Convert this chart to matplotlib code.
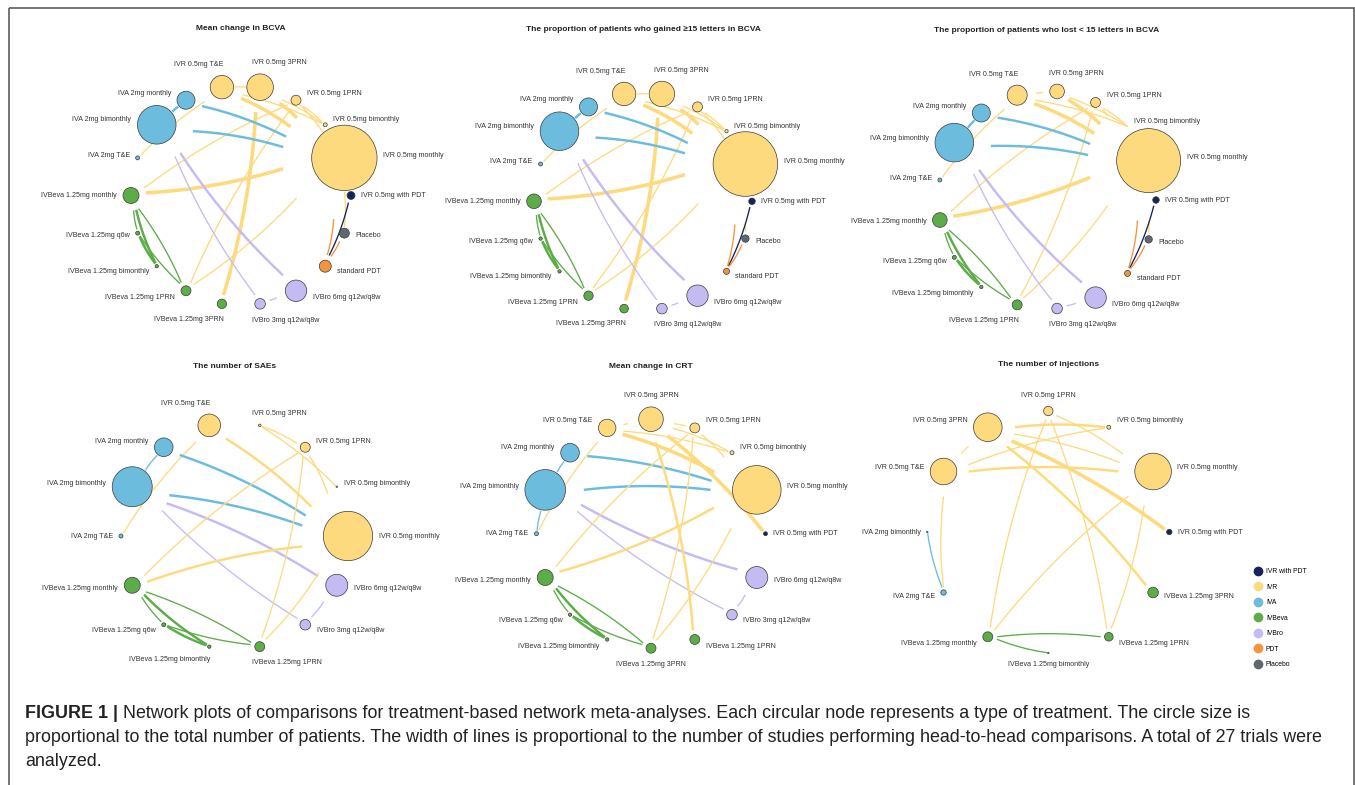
import numpy as np
import matplotlib
matplotlib.use('Agg')
import matplotlib.pyplot as plt
from matplotlib.lines import Line2D
from matplotlib.patches import Rectangle

plt.rcParams['font.family'] = ['Liberation Sans', 'DejaVu Sans']

W, H = 1355, 785

# treatment names and the drug class each belongs to
names = {
    'PDTc': 'IVR 0.5mg with PDT', 'Rm': 'IVR 0.5mg monthly', 'Rb': 'IVR 0.5mg bimonthly',
    'R1': 'IVR 0.5mg 1PRN', 'R3': 'IVR 0.5mg 3PRN', 'RT': 'IVR 0.5mg T&E',
    'Am': 'IVA 2mg monthly', 'Ab': 'IVA 2mg bimonthly', 'AT': 'IVA 2mg T&E',
    'Bm': 'IVBeva 1.25mg monthly', 'B6': 'IVBeva 1.25mg q6w', 'Bb': 'IVBeva 1.25mg bimonthly',
    'B1': 'IVBeva 1.25mg 1PRN', 'B3': 'IVBeva 1.25mg 3PRN',
    'O3': 'IVBro 3mg q12w/q8w', 'O6': 'IVBro 6mg q12w/q8w',
    'SP': 'standard PDT', 'Pl': 'Placebo',
}
drug_class = {
    'PDTc': 'IVR with PDT', 'Rm': 'IVR', 'Rb': 'IVR', 'R1': 'IVR', 'R3': 'IVR', 'RT': 'IVR',
    'Am': 'IVA', 'Ab': 'IVA', 'AT': 'IVA',
    'Bm': 'IVBeva', 'B6': 'IVBeva', 'Bb': 'IVBeva', 'B1': 'IVBeva', 'B3': 'IVBeva',
    'O3': 'IVBro', 'O6': 'IVBro', 'SP': 'PDT', 'Pl': 'Placebo',
}
classes = ['IVR with PDT', 'IVR', 'IVA', 'IVBeva', 'IVBro', 'PDT', 'Placebo']
class_colors = {
    'IVR with PDT': '#14245a', 'IVR': '#fdda7e', 'IVA': '#6bbcdd', 'IVBeva': '#5cac48',
    'IVBro': '#c5bbf3', 'PDT': '#f4943c', 'Placebo': '#5f696d',
}

# ---- Mean change in BCVA ----
bcva_nodes = ['PDTc', 'Rm', 'Rb', 'R1', 'R3', 'RT', 'Am', 'Ab', 'AT',
              'Bm', 'B6', 'Bb', 'B1', 'B3', 'O3', 'O6', 'SP', 'Pl']
bcva_patients = [28, 1900, 7, 44, 314, 243, 144, 662, 7, 114, 7, 5, 44, 39, 50, 204, 64, 44]
bcva_edges = [
    ('RT', 'R3', 1), ('RT', 'Rm', 3), ('R3', 'Rm', 3), ('RT', 'Rb', 1), ('R3', 'Rb', 1),
    ('R1', 'Rb', 1), ('R1', 'Rm', 1), ('RT', 'AT', 1), ('Rm', 'Bm', 3), ('R1', 'Bm', 1),
    ('R1', 'B1', 1), ('Rm', 'B1', 1), ('R3', 'B3', 3), ('Rm', 'Pl', 1),
    ('Am', 'Ab', 2), ('Am', 'Rm', 2), ('Ab', 'Rm', 2),
    ('O6', 'Ab', 2), ('O3', 'Ab', 1), ('O3', 'O6', 1),
    ('Bm', 'B6', 1), ('Bm', 'Bb', 2), ('Bm', 'B1', 1), ('B6', 'Bb', 2), ('B6', 'B1', 1),
    ('PDTc', 'SP', 1), ('SP', 'Rm', 1), ('SP', 'Pl', 1),
]

# ---- Proportion gaining >=15 letters ----
gain_nodes = list(bcva_nodes)
gain_patients = [19, 1855, 5, 44, 287, 243, 144, 662, 7, 95, 5, 5, 39, 33, 50, 204, 16, 24]
gain_edges = list(bcva_edges)

# ---- Proportion losing <15 letters ----
loss_nodes = ['PDTc', 'Rm', 'Rb', 'R1', 'R3', 'RT', 'Am', 'Ab', 'AT',
              'Bm', 'B6', 'Bb', 'B1', 'O3', 'O6', 'SP', 'Pl']
loss_patients = [19, 1820, 0, 44, 95, 178, 144, 662, 7, 95, 7, 5, 44, 50, 204, 16, 24]
loss_edges = [e for e in bcva_edges if 'B3' not in e[:2]]

# ---- Number of SAEs ----
sae_nodes = ['Rm', 'Rb', 'R1', 'R3', 'RT', 'Am', 'Ab', 'AT', 'Bm', 'B6', 'Bb', 'B1', 'O3', 'O6']
sae_patients = [1085, 1, 44, 3, 227, 154, 711, 7, 114, 7, 5, 44, 50, 215]
sae_edges = [
    ('Am', 'Ab', 1), ('RT', 'AT', 1), ('Am', 'Rm', 2), ('Ab', 'Rm', 2),
    ('O6', 'Ab', 2), ('O3', 'Ab', 1), ('O3', 'O6', 1),
    ('Rm', 'Bm', 2), ('R1', 'Bm', 1), ('R1', 'B1', 1), ('Rm', 'B1', 1), ('RT', 'Rm', 2),
    ('R3', 'R1', 1), ('R3', 'Rb', 1), ('R1', 'Rm', 1),
    ('Bm', 'B6', 1), ('Bm', 'Bb', 2), ('Bm', 'B1', 1), ('B6', 'Bb', 2), ('B6', 'B1', 1),
]

# ---- Mean change in CRT ----
crt_nodes = ['PDTc', 'Rm', 'Rb', 'R1', 'R3', 'RT', 'Am', 'Ab', 'AT',
             'Bm', 'B6', 'Bb', 'B3', 'B1', 'O3', 'O6']
crt_patients = [7, 1050, 7, 44, 269, 135, 154, 733, 7, 114, 5, 5, 44, 44, 50, 215]
crt_edges = [
    ('Am', 'Ab', 1), ('Ab', 'AT', 1), ('RT', 'AT', 1), ('Am', 'Rm', 2), ('Ab', 'Rm', 2),
    ('O6', 'Ab', 2), ('O3', 'Ab', 1), ('O3', 'O6', 1),
    ('Rm', 'Bm', 2), ('R1', 'Bm', 1), ('R3', 'B1', 2), ('R1', 'B3', 1), ('Rm', 'B3', 1),
    ('RT', 'Rm', 3), ('R3', 'PDTc', 3), ('RT', 'R3', 1), ('R3', 'R1', 1), ('RT', 'Rb', 1),
    ('R3', 'Rb', 1), ('R1', 'Rm', 1),
    ('Bm', 'B6', 1), ('Bm', 'Bb', 2), ('Bm', 'B3', 1), ('B6', 'Bb', 2), ('B6', 'B3', 1),
]

# ---- Number of injections ----
inj_nodes = ['PDTc', 'Rm', 'Rb', 'R1', 'R3', 'RT', 'Ab', 'AT', 'Bm', 'Bb', 'B1', 'B3']
inj_patients = [13, 595, 7, 39, 364, 314, 1, 13, 44, 1, 33, 50]
inj_edges = [
    ('Ab', 'AT', 1), ('RT', 'AT', 1), ('RT', 'R3', 1), ('RT', 'Rb', 1), ('RT', 'Rm', 2),
    ('R3', 'Rb', 2), ('R3', 'Rm', 1), ('R3', 'PDTc', 3), ('R3', 'B3', 2),
    ('R1', 'Rm', 1), ('R1', 'Bm', 1), ('R1', 'B1', 1), ('Rm', 'Bm', 1), ('Rm', 'B1', 1),
    ('Bm', 'B1', 1), ('Bm', 'Bb', 1),
]

panels = [
    ('Mean change in BCVA', bcva_nodes, bcva_patients, bcva_edges, (241, 195.5), 110),
    ('The proportion of patients who gained \u226515 letters in BCVA', gain_nodes, gain_patients, gain_edges, (643, 201.3), 109),
    ('The proportion of patients who lost < 15 letters in BCVA', loss_nodes, loss_patients, loss_edges, (1047, 200), 109),
    ('The number of SAEs', sae_nodes, sae_patients, sae_edges, (234.5, 536), 113.5),
    ('Mean change in CRT', crt_nodes, crt_patients, crt_edges, (651, 533.7), 114.5),
    ('The number of injections', inj_nodes, inj_patients, inj_edges, (1048.3, 532), 121),
]
title_y = [28.5, 29.5, 30, 366.5, 366, 364.5]

# edges whose arc bends toward the middle of the ring instead of away from it
bend_inward = {('Rm', 'Bm'), ('Bm', 'B1'), ('Bm', 'B3')}

PX_PER_SQRT = 0.75     # node radius in px per sqrt(patients)
PT = 72 / 100          # points per pixel


def bezier(p0, p1, p2, n=50):
    t = np.linspace(0, 1, n)[:, None]
    return (1 - t) ** 2 * p0 + 2 * (1 - t) * t * p1 + t ** 2 * p2


def draw_network(ax, title, nodes, patients, edges, center, R, ty):
    cx, cy = center
    ang = 2 * np.pi * np.arange(len(nodes)) / len(nodes)
    pos = {k: np.array([cx + R * np.cos(a), cy - R * np.sin(a)]) for k, a in zip(nodes, ang)}
    theta = dict(zip(nodes, ang))
    rad = {k: PX_PER_SQRT * np.sqrt(p) for k, p in zip(nodes, patients)}
    c0 = np.array([cx, cy])

    for a, b, studies in edges:
        pa, pb = pos[a], pos[b]
        d = pb - pa
        L = np.hypot(*d)
        u = d / L
        sa, sb = 1.9 * rad[a], 1.9 * rad[b]
        if sa + sb > L - 4:
            sa, sb = rad[a] + 1, rad[b] + 1
        p0, p2 = pa + u * sa, pb - u * sb
        mid = (p0 + p2) / 2
        nrm = np.array([-u[1], u[0]])
        if np.dot(mid - c0, nrm) < 0:
            nrm = -nrm
        if (a, b) in bend_inward:
            nrm = -nrm
        p1 = mid + nrm * 0.06 * np.hypot(*(p2 - p0))
        curve = bezier(p0, p1, p2)
        ax.plot(curve[:, 0], curve[:, 1], color=class_colors[drug_class[a]],
                lw=0.95 + 0.8 * (studies - 1), solid_capstyle='butt', zorder=1)

    xy = np.array([pos[k] for k in nodes])
    sizes = [(2 * rad[k] * PT) ** 2 for k in nodes]
    cols = [class_colors[drug_class[k]] for k in nodes]
    ax.scatter(xy[:, 0], xy[:, 1], s=sizes, c=cols, edgecolors='#3b3b3b',
               linewidths=0.5, zorder=3)

    for k in nodes:
        x, y = pos[k]
        c, s = np.cos(theta[k]), np.sin(theta[k])
        r = rad[k]
        if abs(s) > 0.95:
            if abs(c) < 0.05:
                ha, tx = 'center', x
            elif c > 0:
                ha, tx = 'left', x - 8
            else:
                ha, tx = 'right', x + 1.5
            ty_ = y - np.sign(s) * (r + 11)
        else:
            ha = 'left' if c > 0 else 'right'
            tx = x + np.sign(c) * (r + 6)
            ty_ = y - s * 8
        ax.text(tx, ty_, names[k], ha=ha, va='center', fontsize=5.1,
                color='#333333', zorder=4)

    ax.text(cx, ty, title, ha='center', va='center', fontsize=6,
            fontweight='bold', color='#222222')


fig = plt.figure(figsize=(W / 100, H / 100), dpi=100)
ax = fig.add_axes([0, 0, 1, 1])
ax.set_xlim(0, W)
ax.set_ylim(H, 0)
ax.set_axis_off()

for (title, nodes, patients, edges, center, R), ty in zip(panels, title_y):
    draw_network(ax, title, nodes, patients, edges, center, R, ty)

# outer frame of the figure panel
ax.add_patch(Rectangle((9, 8), 1345, 800, fill=False, edgecolor='#5c5c5c',
                       lw=1.2, clip_on=False))

# drug class legend
handles = [Line2D([], [], marker='o', ls='', markersize=6,
                  markerfacecolor=class_colors[c], markeredgecolor=class_colors[c])
           for c in classes]
fig.legend(handles, classes, loc='upper left', bbox_to_anchor=(1255 / W, 1 - 568 / H),
           frameon=False, fontsize=4.9, handletextpad=0.6, labelspacing=1.25,
           borderpad=0, borderaxespad=0, handlelength=1.0)

# caption
caption = [
    'Network plots of comparisons for treatment-based network meta-analyses. Each circular node represents a type of treatment. The circle size is',
    'proportional to the total number of patients. The width of lines is proportional to the number of studies performing head-to-head comparisons. A total of 27 trials were',
    'analyzed.',
]
cap_y = [713, 737, 761]
fs_cap = 12.9
head = ax.text(25, cap_y[0], 'FIGURE 1 |', fontsize=fs_cap, fontweight='bold',
               va='center', ha='left', color='#222222')
fig.canvas.draw()
bb = head.get_window_extent().transformed(ax.transData.inverted())
ax.text(bb.x1 + 5, cap_y[0], caption[0], fontsize=fs_cap, va='center', ha='left', color='#222222')
for line, y in zip(caption[1:], cap_y[1:]):
    ax.text(25, y, line, fontsize=fs_cap, va='center', ha='left', color='#222222')

fig.savefig('out.png', dpi=100)
